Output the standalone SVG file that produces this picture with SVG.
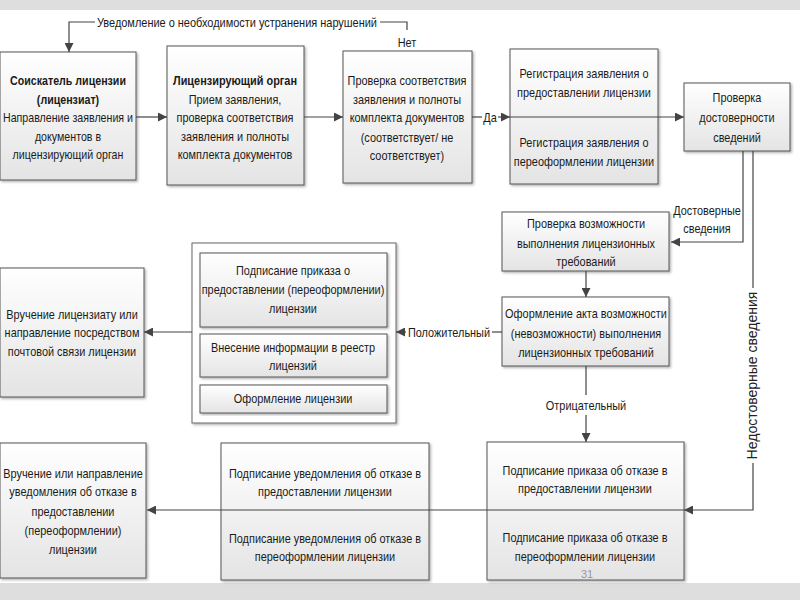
<svg xmlns="http://www.w3.org/2000/svg" width="800" height="600" viewBox="0 0 800 600">
<defs>
<linearGradient id="g" x1="0" y1="0" x2="0" y2="1">
<stop offset="0" stop-color="#ffffff"/>
<stop offset="1" stop-color="#e4e4e4"/>
</linearGradient>
<filter id="sh" x="-5%" y="-5%" width="115%" height="115%">
<feDropShadow dx="1.5" dy="1.5" stdDeviation="1" flood-color="#000" flood-opacity="0.3"/>
</filter>
<marker id="ar" viewBox="0 0 10 10" refX="10" refY="5" markerWidth="9" markerHeight="9" markerUnits="userSpaceOnUse" orient="auto">
<path d="M0,0 L10,5 L0,10 z" fill="#444"/>
</marker>
<style>
.box{fill:url(#g);stroke:#555;stroke-width:1;filter:url(#sh)}
.wbox{fill:#fff;stroke:#666;stroke-width:1;filter:url(#sh)}
.t{font-family:"Liberation Sans",Arial,sans-serif;font-size:13px;fill:#1a1a1a;text-anchor:middle}
.b{font-weight:bold}
.l{font-family:"Liberation Sans",Arial,sans-serif;font-size:13px;fill:#1a1a1a}
.c{stroke:#444;stroke-width:1.2;fill:none}
.a{marker-end:url(#ar)}
.band{fill:#dedede}
</style>
</defs>
<rect width="800" height="600" fill="#fff"/>
<rect class="band" x="0" y="0" width="800" height="10"/>
<rect class="band" x="0" y="583" width="800" height="17"/>

<g id="n1">
<rect class="box" x="0" y="52" width="136" height="128"/>
<g transform="translate(68,0) scale(0.82,1)">
<text class="t b" x="0" y="85">Соискатель лицензии</text>
<text class="t b" x="0" y="104">(лицензиат)</text>
<text class="t" x="0" y="122">Направление заявления и</text>
<text class="t" x="0" y="141">документов в</text>
<text class="t" x="0" y="159">лицензирующий орган</text>
</g>
</g>
<g id="n2">
<rect class="box" x="167" y="46" width="137" height="139"/>
<g transform="translate(235,0) scale(0.84,1)">
<text class="t b" x="0" y="85">Лицензирующий орган</text>
<text class="t" x="0" y="104">Прием заявления,</text>
<text class="t" x="0" y="122">проверка соответствия</text>
<text class="t" x="0" y="141">заявления и полноты</text>
<text class="t" x="0" y="159">комплекта документов</text>
</g>
</g>
<g id="n3">
<rect class="box" x="343" y="51" width="129" height="132"/>
<g transform="translate(407,0) scale(0.84,1)">
<text class="t" x="0" y="85">Проверка соответствия</text>
<text class="t" x="0" y="104">заявления и полноты</text>
<text class="t" x="0" y="122">комплекта документов</text>
<text class="t" x="0" y="142">(соответствует/ не</text>
<text class="t" x="0" y="160">соответствует)</text>
</g>
</g>
<g id="n4">
<rect class="box" x="510" y="49" width="148" height="135"/>
<g transform="translate(584,0) scale(0.84,1)">
<text class="t" x="0" y="78">Регистрация заявления о</text>
<text class="t" x="0" y="97">предоставлении лицензии</text>
<text class="t" x="0" y="147">Регистрация заявления о</text>
<text class="t" x="0" y="166">переоформлении лицензии</text>
</g>
</g>
<g id="n5">
<rect class="box" x="684" y="83" width="106" height="68"/>
<g transform="translate(737,0) scale(0.84,1)">
<text class="t" x="0" y="102">Проверка</text>
<text class="t" x="0" y="122">достоверности</text>
<text class="t" x="0" y="142">сведений</text>
</g>
</g>
<g id="n6">
<rect class="box" x="502" y="212" width="167" height="59"/>
<g transform="translate(586,0) scale(0.84,1)">
<text class="t" x="0" y="228">Проверка возможности</text>
<text class="t" x="0" y="248">выполнения лицензионных</text>
<text class="t" x="0" y="266">требований</text>
</g>
</g>
<g id="n7">
<rect class="box" x="502" y="297" width="167" height="69"/>
<g transform="translate(586,0) scale(0.84,1)">
<text class="t" x="0" y="318">Оформление акта возможности</text>
<text class="t" x="0" y="338">(невозможности) выполнения</text>
<text class="t" x="0" y="357">лицензионных требований</text>
</g>
</g>
<g id="n8">
<rect class="wbox" x="192" y="243" width="204" height="180"/>
<rect class="box" x="200" y="253" width="187" height="74"/>
<rect class="box" x="200" y="334" width="187" height="43"/>
<rect class="box" x="200" y="385" width="187" height="28"/>
<g transform="translate(293,0) scale(0.84,1)">
<text class="t" x="0" y="275">Подписание приказа о</text>
<text class="t" x="0" y="294">предоставлении (переоформлении)</text>
<text class="t" x="0" y="313">лицензии</text>
<text class="t" x="0" y="352">Внесение информации в реестр</text>
<text class="t" x="0" y="370">лицензий</text>
<text class="t" x="0" y="403">Оформление лицензии</text>
</g>
</g>
<g id="n9">
<rect class="box" x="0" y="268" width="144" height="129"/>
<g transform="translate(72,0) scale(0.84,1)">
<text class="t" x="0" y="319">Вручение лицензиату или</text>
<text class="t" x="0" y="337">направление посредством</text>
<text class="t" x="0" y="356">почтовой связи лицензии</text>
</g>
</g>
<g id="n10">
<rect class="box" x="487" y="442" width="197" height="138"/>
<g transform="translate(585,0) scale(0.84,1)">
<text class="t" x="0" y="475">Подписание приказа об отказе в</text>
<text class="t" x="0" y="493">предоставлении лицензии</text>
<text class="t" x="0" y="542">Подписание приказа об отказе в</text>
<text class="t" x="0" y="561">переоформлении лицензии</text>
</g>
</g>
<g id="n11">
<rect class="box" x="221" y="443" width="208" height="137"/>
<g transform="translate(325,0) scale(0.84,1)">
<text class="t" x="0" y="478">Подписание уведомления об отказе в</text>
<text class="t" x="0" y="496">предоставлении лицензии</text>
<text class="t" x="0" y="543">Подписание уведомления об отказе в</text>
<text class="t" x="0" y="561">переоформлении лицензии</text>
</g>
</g>
<g id="n12">
<rect class="box" x="0" y="443" width="146" height="135"/>
<g transform="translate(73,0) scale(0.84,1)">
<text class="t" x="0" y="478">Вручение или направление</text>
<text class="t" x="0" y="496">уведомления об отказе в</text>
<text class="t" x="0" y="516">предоставлении</text>
<text class="t" x="0" y="535">(переоформлении)</text>
<text class="t" x="0" y="554">лицензии</text>
</g>
</g>

<g id="connectors">
<path class="c a" d="M136,117 H167"/>
<path class="c a" d="M304,117 H343"/>
<path class="c" d="M472,117 H482"/>
<path class="c a" d="M498,117 H510"/>
<path class="c a" d="M510,117 H684"/>
<path class="c" d="M407,30 V22 H380"/>
<path class="c a" d="M95,22 H69 V52"/>
<path class="c a" d="M743,151 V242 H671"/>
<path class="c" d="M753,151 V288"/>
<path class="c a" d="M753,463 V510 H684"/>
<path class="c a" d="M586,271 V297"/>
<path class="c" d="M502,332 H492"/>
<path class="c a" d="M406,332 H396"/>
<path class="c a" d="M192,332 H144"/>
<path class="c" d="M586,366 V395"/>
<path class="c a" d="M586,415 V442"/>
<path class="c a" d="M684,510 H147"/>
<text class="l" x="97" y="27" textLength="280" lengthAdjust="spacingAndGlyphs">Уведомление о необходимости устранения нарушений</text>
<g transform="translate(490,0) scale(0.84,1)"><text class="t" x="0" y="122">Да</text></g>
<g transform="translate(407,0) scale(0.84,1)"><text class="t" x="0" y="47">Нет</text></g>
<g transform="translate(707,0) scale(0.84,1)">
<text class="t" x="0" y="215">Достоверные</text>
<text class="t" x="0" y="233">сведения</text>
</g>
<g transform="translate(449,0) scale(0.84,1)"><text class="t" x="0" y="337">Положительный</text></g>
<g transform="translate(586,0) scale(0.84,1)"><text class="t" x="0" y="410">Отрицательный</text></g>
<text x="0" y="0" transform="translate(757,375.5) rotate(-90)" style="font-family:'Liberation Sans',Arial,sans-serif;font-size:14px;fill:#222;text-anchor:middle">Недостоверные сведения</text>
</g>
<text x="587" y="578" style="font-family:'Liberation Sans',Arial,sans-serif;font-size:11px;fill:#999;text-anchor:middle">31</text>
</svg>
